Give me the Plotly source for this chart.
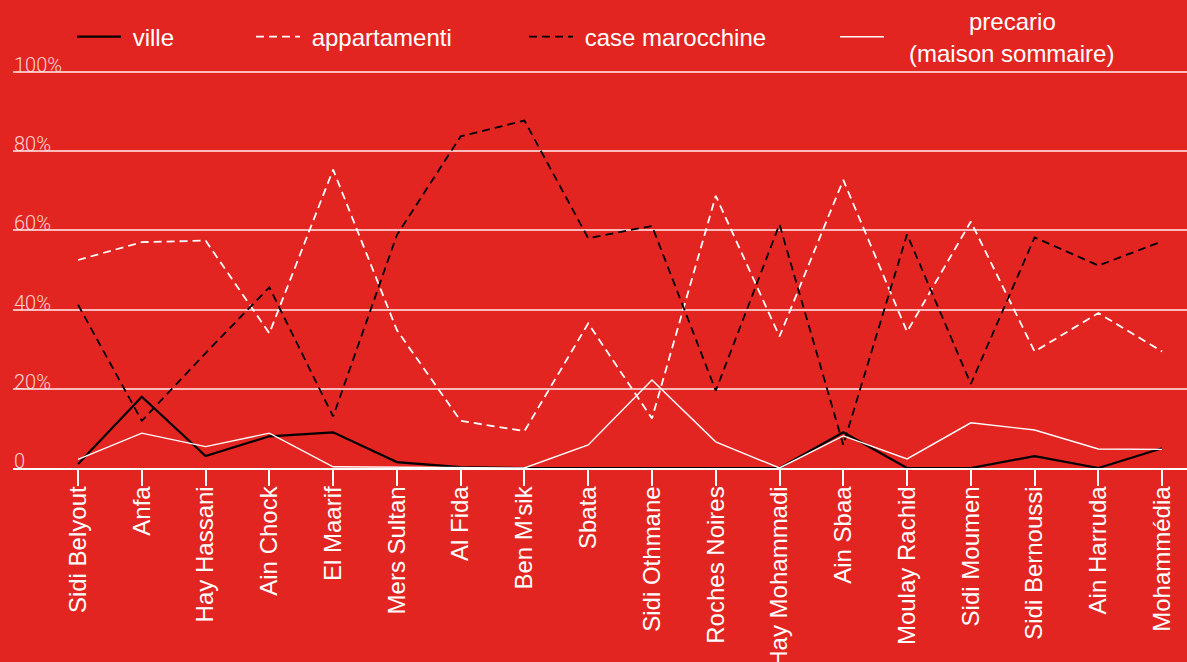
import plotly.graph_objects as go

# Quartieri (arrondissements) of Casablanca
quartieri = [
    "Sidi Belyout", "Anfa", "Hay Hassani", "Ain Chock", "El Maarif",
    "Mers Sultan", "Al Fida", "Ben M'sik", "Sbata", "Sidi Othmane",
    "Roches Noires", "Hay Mohammadi", "Ain Sbaa", "Moulay Rachid",
    "Sidi Moumen", "Sidi Bernoussi", "Ain Harruda", "Mohammédia",
]

# Share of housing type per quartiere (%)
ville = [1, 18, 3, 8, 9, 1.5, 0.2, 0, 0, 0, 0, 0, 9, 0, 0, 3, 0, 5]
appartamenti = [52.5, 57, 57.4, 34, 75.3, 34.8, 11.9, 9.3, 36.5, 12.5,
                68.7, 33.2, 72.7, 34.4, 62.2, 29.4, 39.1, 29.4]
case_marocchine = [41.2, 11.9, 29, 45.6, 13, 58.8, 83.7, 87.7, 58, 61.1,
                   19.5, 61.5, 5.8, 59, 21.2, 58.2, 51.1, 57.2]
precario = [2.2, 8.8, 5.4, 8.8, 0.3, 0.2, 0, 0, 5.8, 22.2,
            6.6, 0, 8.1, 2.3, 11.4, 9.6, 4.8, 4.7]

y_ticks = [0, 20, 40, 60, 80, 100]
y_tick_text = ["0", "20%", "40%", "60%", "80%", "100%"]

BG = "#E32522"
FONT = "Liberation Sans"
NB = "\u00a0"

series = [
    (NB + "ville", ville, "black", "solid", 2.2, "legend"),
    (NB + "appartamenti", appartamenti, "white", "8px,5px", 1.8, "legend2"),
    (NB + "case marocchine", case_marocchine, "black", "8px,5px", 1.8, "legend3"),
    (NB * 12 + "precario<br>" + NB * 3 + "(maison sommaire)", precario, "white", "solid", 1.4, "legend4"),
]

fig = go.Figure()
for name, vals, color, dash, width, leg in series:
    fig.add_trace(go.Scatter(
        x=quartieri, y=vals, name=name, mode="lines",
        line=dict(color=color, dash=dash, width=width),
        legend=leg, hoverinfo="skip",
    ))

# y tick labels sit on top of their gridlines, at the left edge of the plot
for val, txt in zip(y_ticks, y_tick_text):
    fig.add_annotation(
        x=0, xref="paper", xanchor="left",
        y=val, yref="y", yanchor="bottom", yshift=-6,
        text=txt, showarrow=False, borderpad=0,
        font=dict(family="Roboto", size=20, color="rgba(255,230,230,0.9)", weight=300),
    )

def legend_box(x):
    return dict(
        x=x, y=1 - 37 / 662, xref="container", yref="container",
        xanchor="left", yanchor="middle", orientation="h",
        bgcolor="rgba(0,0,0,0)", borderwidth=0, itemwidth=44,
        font=dict(family=FONT, size=24, color="white"),
        valign="middle",
    )

fig.update_layout(
    width=1187, height=662,
    paper_bgcolor=BG, plot_bgcolor=BG,
    margin=dict(l=13, r=0, t=52, b=194, autoexpand=False),
    showlegend=True,
    legend=legend_box(72 / 1187),
    legend2=legend_box(251 / 1187),
    legend3=legend_box(524 / 1187),
    legend4=legend_box(835 / 1187),
    xaxis=dict(
        type="category", range=[-1.02, 17.39], automargin=False,
        showgrid=False, zeroline=False,
        showline=True, linecolor="white", linewidth=1.5,
        ticks="outside", ticklen=16, tickwidth=1.5, tickcolor="white",
        tickangle=-90, ticklabelstandoff=-9,
        tickfont=dict(family=FONT, size=24, color="white"),
        fixedrange=True,
    ),
    yaxis=dict(
        range=[0, 105], tickvals=y_ticks, showticklabels=False,
        automargin=False,
        showgrid=True, gridcolor="rgba(255,225,225,0.8)", gridwidth=1.5,
        zeroline=False, showline=False, ticks="",
        fixedrange=True,
    ),
)

fig.write_html("out.html")
